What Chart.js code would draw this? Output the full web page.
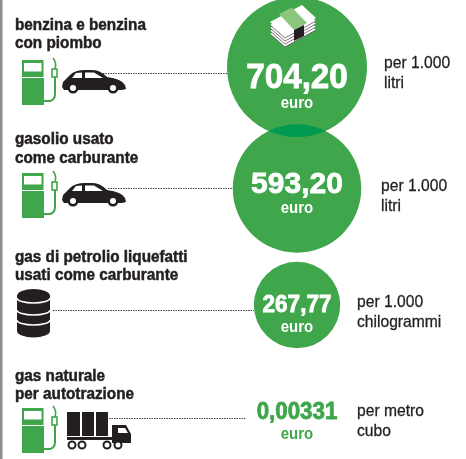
<!DOCTYPE html>
<html>
<head>
<meta charset="utf-8">
<title>accise carburanti</title>
<script src="https://cdn.jsdelivr.net/npm/chart.js@4"></script>
<style>
  body { margin: 0; background: #fff; }
  canvas { display: block; }
</style>
</head>
<body>
<canvas id="myChart" width="466" height="459"></canvas>
<script>
'use strict';
// data
let fuelLines = [
  ['benzina e benzina', 'con piombo'],
  ['gasolio usato', 'come carburante'],
  ['gas di petrolio liquefatti', 'usati come carburante'],
  ['gas naturale', 'per autotrazione']
];
let values = [704.20, 593.20, 267.77, 0.00331];
let valueLabels = ['704,20', '593,20', '267,77', '0,00331'];
let currency = 'euro';
let unitLines = [
  ['per 1.000', 'litri'],
  ['per 1.000', 'litri'],
  ['per 1.000', 'chilogrammi'],
  ['per metro', 'cubo']
];

// layout of the rows, in canvas pixels
const GREEN = '#3fa64b';
const OVERLAP = '#009a50';
const INK = '#231f20';
const CENTRE_X = 297;
const MAX_RADIUS = 70;
let rowCentre = [67, 188.5, 305, 418];
let titleBase = [29.5, 144, 261.5, 380.5];
let unitX = [384, 381, 357, 357];
let unitBase = [68, 191, 307, 416];
let valueBase = [88, 192.5, 311.5, 419];
let euroBase = [108, 213, 331.5, 439];
let valueSize = [35, 30, 23, 24];
let valueSqueeze = [0.95, 1, 0.98, 0.93];
let leaderY = [73, 188, 310, 418];
let leaderFrom = [103, 108, 53, 109];
let leaderTo = [228, 233, 254, 246];

const SANS = '"Liberation Sans", Arial, sans-serif';

// no narrow face is installed, so the regular one is squeezed sideways
function text(ctx, str, x, y, size, color, bold, squeeze, align, heavy) {
  ctx.save();
  ctx.translate(x, y);
  ctx.scale(squeeze, 1);
  ctx.font = (bold ? 'bold ' : '') + size + 'px ' + SANS;
  ctx.fillStyle = color;
  ctx.textAlign = align || 'left';
  ctx.textBaseline = 'alphabetic';
  ctx.fillText(str, 0, 0);
  if (heavy) {
    ctx.strokeStyle = color;
    ctx.lineWidth = heavy;
    ctx.strokeText(str, 0, 0);
  }
  ctx.restore();
}

function poly(ctx, pts, fill) {
  ctx.beginPath();
  pts.forEach(function (p, i) {
    if (i === 0) { ctx.moveTo(p[0], p[1]); } else { ctx.lineTo(p[0], p[1]); }
  });
  ctx.closePath();
  ctx.fillStyle = fill;
  ctx.fill();
}

function pump(ctx, dy) {
  ctx.save();
  ctx.translate(0, dy);
  ctx.strokeStyle = GREEN;
  ctx.fillStyle = GREEN;
  ctx.fillRect(22, 60, 21.5, 17);
  ctx.fillStyle = '#fff';
  ctx.fillRect(24, 63, 17.5, 8.5);
  ctx.fillStyle = GREEN;
  ctx.fillRect(22, 78, 22, 27);
  ctx.lineWidth = 2;
  ctx.beginPath();
  ctx.moveTo(44, 101);
  ctx.lineTo(50, 101);
  ctx.quadraticCurveTo(55, 100, 55, 94);
  ctx.lineTo(55, 77);
  ctx.stroke();
  ctx.lineWidth = 1.6;
  ctx.strokeRect(52, 69, 5, 8);
  ctx.beginPath();
  ctx.moveTo(55, 69);
  ctx.quadraticCurveTo(57, 63, 53, 58);
  ctx.stroke();
  ctx.restore();
}

function car(ctx, dy) {
  ctx.save();
  ctx.translate(0, dy);
  ctx.fillStyle = INK;
  ctx.beginPath();
  ctx.moveTo(62, 87);
  ctx.lineTo(63, 82);
  ctx.lineTo(70, 75);
  ctx.quadraticCurveTo(75, 70, 85, 70);
  ctx.lineTo(93, 70);
  ctx.quadraticCurveTo(100, 70, 107, 77);
  ctx.quadraticCurveTo(122, 79, 125, 85);
  ctx.lineTo(126, 89);
  ctx.lineTo(122, 90);
  ctx.lineTo(64, 90);
  ctx.closePath();
  ctx.fill();
  poly(ctx, [[72, 78], [76, 73], [82, 72.5], [82, 78]], '#fff');
  poly(ctx, [[85, 72.5], [94, 72.5], [103, 78], [85, 78]], '#fff');
  [73, 113].forEach(function (x) {
    ctx.beginPath();
    ctx.arc(x, 88, 5.5, 0, Math.PI * 2);
    ctx.fillStyle = INK;
    ctx.fill();
    ctx.beginPath();
    ctx.arc(x, 88, 3, 0, Math.PI * 2);
    ctx.fillStyle = '#fff';
    ctx.fill();
  });
  ctx.restore();
}

function barrel(ctx) {
  ctx.fillStyle = INK;
  [[296, 7], [309, 6], [320, 6], [331, 6.5]].forEach(function (b) {
    ctx.beginPath();
    ctx.ellipse(33.5, b[0], 16.5, b[1], 0, 0, Math.PI * 2);
    ctx.fill();
  });
  ctx.fillRect(17, 296, 33, 35);
  ctx.strokeStyle = '#fff';
  ctx.lineWidth = 1.5;
  [298, 310, 320].forEach(function (y) {
    ctx.beginPath();
    ctx.ellipse(33.5, y, 16.5, 5, 0, 0, Math.PI);
    ctx.stroke();
  });
}

function truck(ctx) {
  ctx.fillStyle = INK;
  ctx.fillRect(67, 412, 13, 24);
  ctx.fillRect(82, 412, 12, 24);
  ctx.fillRect(96, 412, 12, 24);
  ctx.fillRect(67, 437, 62, 3);
  poly(ctx, [[112, 425], [126, 425], [131, 434], [131, 443], [112, 443]], INK);
  poly(ctx, [[118, 428], [125, 428], [128, 433], [118, 433]], '#fff');
  ctx.lineWidth = 2;
  ctx.strokeStyle = INK;
  [72, 82, 107, 118].forEach(function (x) {
    ctx.beginPath();
    ctx.arc(x, 445, 3.5, 0, Math.PI * 2);
    ctx.fillStyle = '#fff';
    ctx.fill();
    ctx.stroke();
  });
}

function money(ctx) {
  for (let off = 12; off >= 3; off -= 3) {
    poly(ctx, [[270, 22 + off], [302, 5 + off], [316, 18 + off], [285, 35 + off]], '#fff');
    ctx.strokeStyle = '#4a3a4a';
    ctx.lineWidth = 0.7;
    ctx.beginPath();
    ctx.moveTo(270, 22 + off);
    ctx.lineTo(285, 35 + off);
    ctx.lineTo(316, 18 + off);
    ctx.stroke();
  }
  poly(ctx, [[270, 22], [302, 5], [316, 18], [285, 35]], '#fff');
  poly(ctx, [[279, 14], [292, 7.5], [307, 23], [294, 30]], '#8cc67e');
  poly(ctx, [[294, 30], [304, 25], [304, 36], [294, 41]], INK);
}

let infographic = {
  id: 'infographic',
  beforeDatasetsDraw: function (chart) {
    let ctx = chart.ctx;
    ctx.save();
    ctx.fillStyle = '#8f8f8f';
    ctx.fillRect(0, 0, 2.5, chart.height);
    // dotted leaders run under the circles
    ctx.strokeStyle = '#444';
    ctx.lineWidth = 1;
    ctx.setLineDash([1.5, 1]);
    leaderY.forEach(function (y, i) {
      ctx.beginPath();
      ctx.moveTo(leaderFrom[i], y + 0.5);
      ctx.lineTo(leaderTo[i], y + 0.5);
      ctx.stroke();
    });
    ctx.restore();
  },
  afterDatasetsDraw: function (chart) {
    let ctx = chart.ctx;
    let els = chart.getDatasetMeta(0).data;

    // darker lens where the two big circles overlap
    ctx.save();
    ctx.beginPath();
    ctx.arc(els[0].x, els[0].y, els[0].options.radius, 0, Math.PI * 2);
    ctx.clip();
    ctx.beginPath();
    ctx.arc(els[1].x, els[1].y, els[1].options.radius, 0, Math.PI * 2);
    ctx.fillStyle = OVERLAP;
    ctx.fill();
    ctx.restore();

    ctx.save();
    fuelLines.forEach(function (lines, i) {
      text(ctx, lines[0], 15, titleBase[i], 17, INK, true, 0.9, 'left', 0.5);
      text(ctx, lines[1], 15, titleBase[i] + 18.5, 17, INK, true, 0.9, 'left', 0.5);
      text(ctx, unitLines[i][0], unitX[i], unitBase[i], 17, INK, false, 0.92, 'left', 0.3);
      text(ctx, unitLines[i][1], unitX[i], unitBase[i] + 19.5, 17, INK, false, 0.92, 'left', 0.3);
      let c = i === 3 ? GREEN : '#fff';
      text(ctx, valueLabels[i], CENTRE_X, valueBase[i], valueSize[i], c, true, valueSqueeze[i], 'center', 0.8);
      text(ctx, currency, CENTRE_X, euroBase[i], 17, c, true, 0.88, 'center');
    });
    pump(ctx, 0);
    car(ctx, 0);
    pump(ctx, 113);
    car(ctx, 113);
    barrel(ctx);
    pump(ctx, 348);
    truck(ctx);
    money(ctx);
    ctx.restore();
  }
};

// circle area is proportional to the value
let maxValue = Math.max.apply(null, values);
let points = values.map(function (v, i) {
  return { x: CENTRE_X, y: rowCentre[i], r: MAX_RADIUS * Math.sqrt(v / maxValue) };
});

new Chart(document.getElementById('myChart').getContext('2d'), {
  type: 'bubble',
  data: {
    datasets: [{
      data: points,
      backgroundColor: GREEN,
      borderWidth: 0,
      clip: false
    }]
  },
  options: {
    responsive: false,
    animation: false,
    layout: { padding: 0, autoPadding: false },
    scales: {
      x: { type: 'linear', display: false, min: 0, max: 466 },
      y: { type: 'linear', display: false, min: 0, max: 459, reverse: true }
    },
    plugins: {
      legend: { display: false },
      tooltip: { enabled: false }
    }
  },
  plugins: [infographic]
});
</script>
</body>
</html>
